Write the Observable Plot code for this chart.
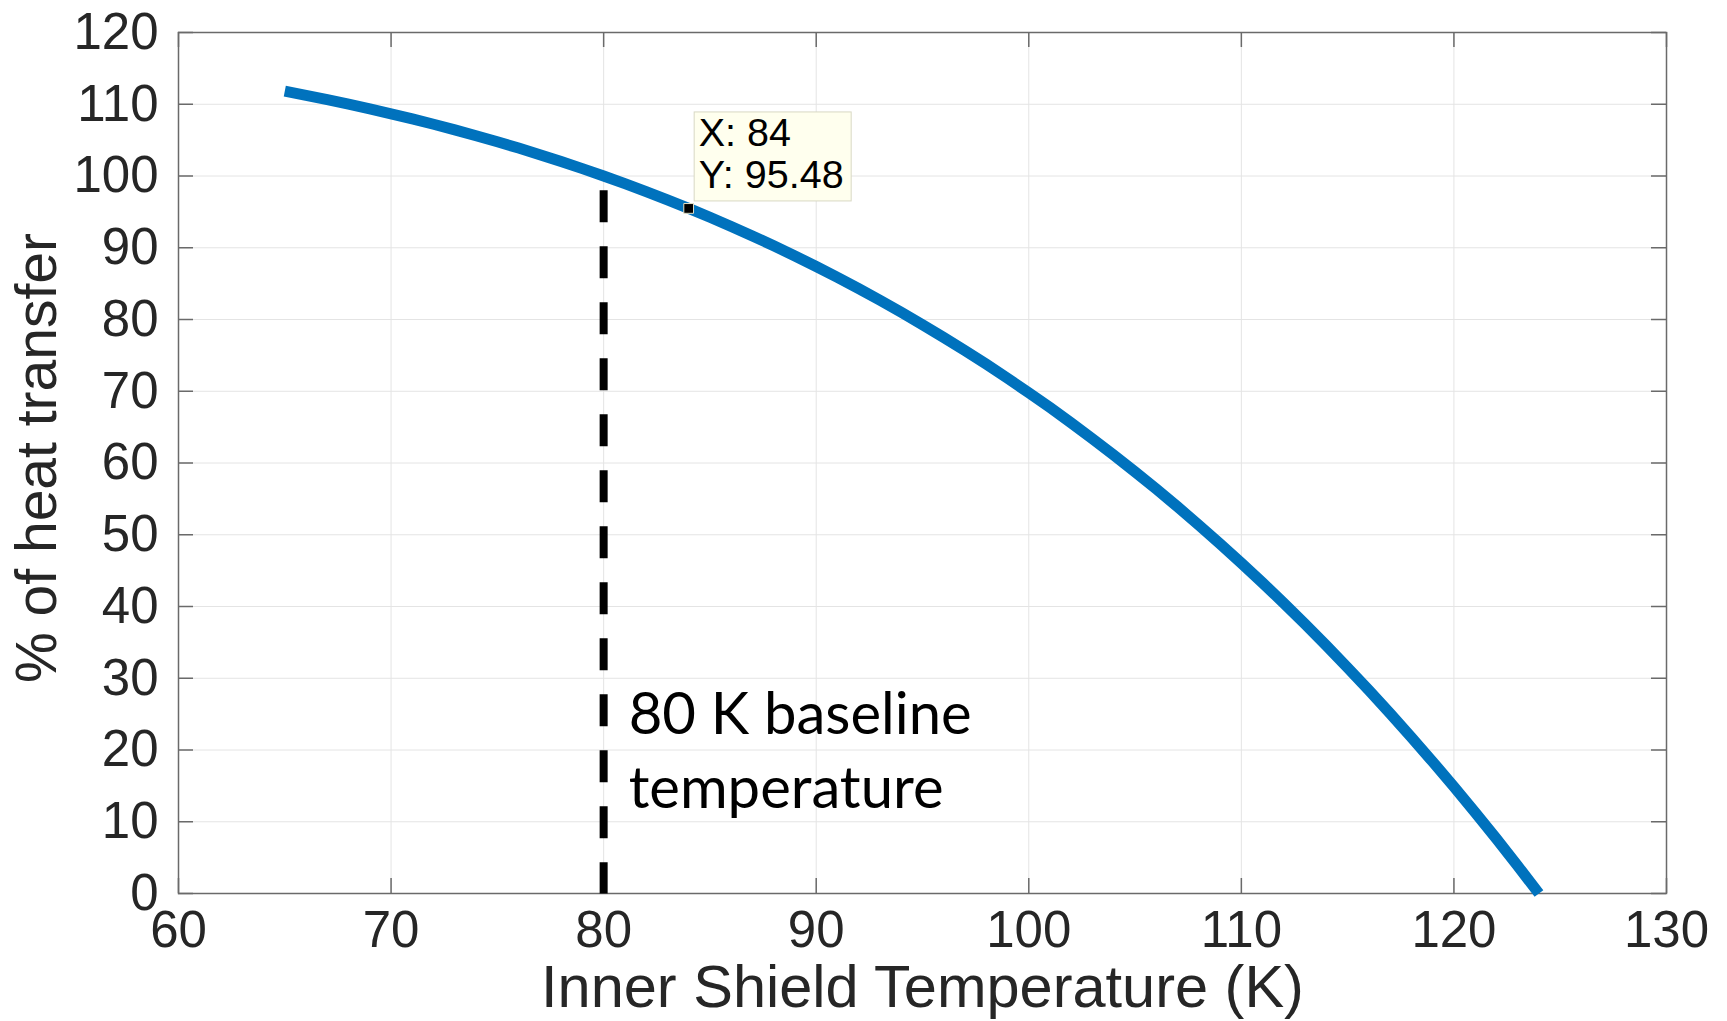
<!DOCTYPE html>
<html>
<head>
<meta charset="utf-8">
<script src="https://cdn.jsdelivr.net/npm/d3@7"></script>
<script src="https://cdn.jsdelivr.net/npm/@observablehq/plot@0.6"></script>
<style>
  html, body { margin: 0; padding: 0; background: #fff; overflow: hidden; }
  #chart svg { display: block; }
</style>
</head>
<body>
<div id="chart"></div>
<script>
// Inner shield temperature (K)
const temperature = [65,66,67,68,69,70,71,72,73,74,75,76,77,78,79,80,
  81,82,83,84,85,86,87,88,89,90,91,92,93,94,95,96,97,98,99,100,
  101,102,103,104,105,106,107,108,109,110,111,112,113,114,115,116,117,118,119,120,
  121,122,123,124];
// % of heat transfer
const heatPct = [111.82,111.25,110.65,110.02,109.36,108.67,107.95,107.21,106.43,105.61,104.77,103.89,102.97,102.02,101.03,100.00,
  98.93,97.82,96.68,95.48,94.25,92.97,91.65,90.27,88.86,87.39,
  85.87,84.30,82.68,81.01,79.28,77.50,75.66,73.77,71.81,69.79,
  67.72,65.58,63.37,61.10,58.77,56.37,53.89,51.35,48.74,46.05,
  43.29,40.45,37.54,34.55,31.47,28.32,25.09,21.77,18.36,14.87,
  11.29,7.62,3.85,0];

// 80 K baseline marker
const baselineX = [80, 80];
const baselineY = [98, 0];
const baselineLabel = ["80 K baseline\ntemperature"];

// data tip
const tipX = [84];
const tipY = [95.48];

// axes
const xTicks = [60,70,80,90,100,110,120,130];
const yTicks = [0,10,20,30,40,50,60,70,80,90,100,110,120];
const xTitle = ["Inner Shield Temperature (K)"];
const yTitle = ["% of heat transfer"];

const curve = temperature.map((t, i) => ({x: t, y: heatPct[i]}));
const baseline = baselineX.map((x, i) => ({x, y: baselineY[i]}));
const tip = tipX.map((x, i) => ({x, y: tipY[i]}));

const axisColor = "#6a6a6a";
const gridColor = "#e4e4e4";

const chart = Plot.plot({
  width: 1727,
  height: 1021,
  marginLeft: 178,
  marginRight: 61,
  marginTop: 32,
  marginBottom: 128,
  style: {
    fontFamily: "'Liberation Sans', Arial, Helvetica, sans-serif",
    fontSize: "51px",
    color: "#262626",
    background: "#ffffff"
  },
  x: {domain: [60, 130], ticks: xTicks, tickSize: 0, tickPadding: 17, label: null},
  y: {domain: [0, 120], ticks: yTicks, tickSize: 0, tickPadding: 20, label: null},
  marks: [
    // grid
    Plot.ruleX(xTicks, {x: d => d, stroke: gridColor, strokeWidth: 1}),
    Plot.ruleY(yTicks, {y: d => d, stroke: gridColor, strokeWidth: 1}),
    // inward tick marks on all four sides
    Plot.ruleX(xTicks, {x: d => d, y1: () => 0, y2: () => 0, insetBottom: 15, stroke: axisColor, strokeWidth: 1.5}),
    Plot.ruleX(xTicks, {x: d => d, y1: () => 120, y2: () => 120, insetBottom: -15, stroke: axisColor, strokeWidth: 1.5}),
    Plot.ruleY(yTicks, {y: d => d, x1: () => 60, x2: () => 60, insetRight: -15, stroke: axisColor, strokeWidth: 1.5}),
    Plot.ruleY(yTicks, {y: d => d, x1: () => 130, x2: () => 130, insetRight: 15, stroke: axisColor, strokeWidth: 1.5}),
    Plot.frame({stroke: axisColor, strokeWidth: 1.5}),
    // main curve
    Plot.line(curve, {x: "x", y: "y", stroke: "#0072BD", strokeWidth: 11, strokeLinecap: "butt", strokeLinejoin: "round"}),
    // baseline dashed line
    Plot.line(baseline, {x: "x", y: "y", stroke: "#000", strokeWidth: 8, strokeDasharray: "32,24", strokeLinecap: "butt"}),
    Plot.text(baselineLabel, {
      x: () => baselineX[1], y: () => baselineY[1], text: d => d,
      textAnchor: "start", lineAnchor: "top", dx: 25, dy: -212,
      fontFamily: "Lato, 'Open Sans', sans-serif", fontSize: 58, lineHeight: 1.276, fill: "#000"
    }),
    // data tip box
    Plot.rect(tip, {
      x1: "x", x2: "x", y1: "y", y2: "y",
      insetLeft: 6, insetRight: -163, insetTop: -96, insetBottom: 7,
      fill: "#FFFFEE", stroke: "#d8d8c4", strokeWidth: 1
    }),
    Plot.text(tip, {
      x: "x", y: "y", text: d => `X: ${d.x}\nY: ${d.y}`,
      textAnchor: "start", lineAnchor: "top", dx: 10, dy: -92,
      fontSize: 39.5, lineHeight: 1.06, fill: "#000"
    }),
    Plot.dot(tip, {x: "x", y: "y", symbol: "square", r: 5.5, fill: "#000", stroke: "#e8e4c8", strokeWidth: 1}),
    // axis titles
    Plot.text(xTitle, {frameAnchor: "bottom", text: d => d, lineAnchor: "top", dy: 71, fontSize: 59.5, fill: "#262626"}),
    Plot.text(yTitle, {frameAnchor: "left", text: d => d, rotate: -90, textAnchor: "middle", lineAnchor: "middle", dx: -141, dy: -5, fontSize: 57, fill: "#262626"})
  ]
});
document.getElementById("chart").appendChild(chart);
</script>
</body>
</html>
